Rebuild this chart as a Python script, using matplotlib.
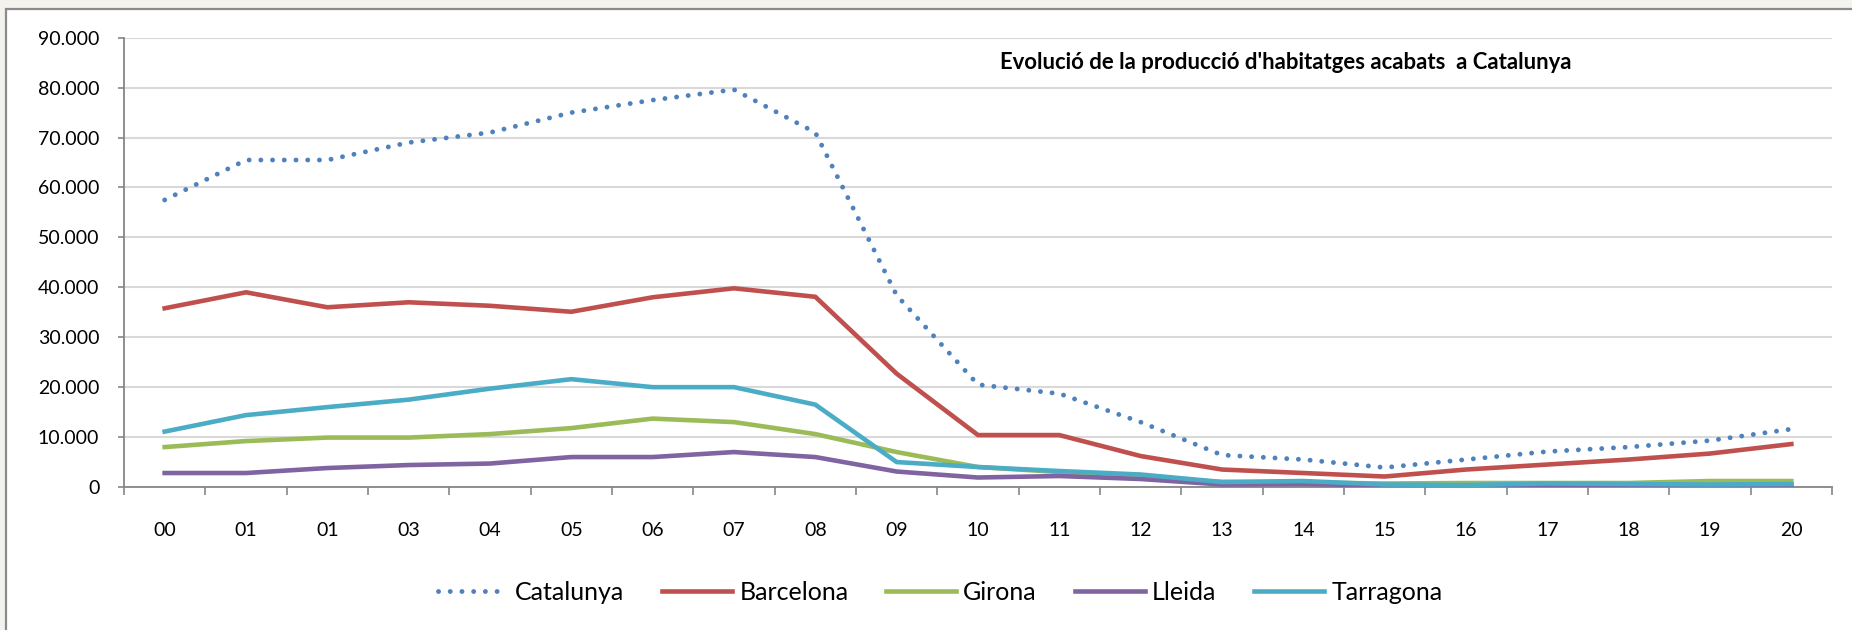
import matplotlib.pyplot as plt
from matplotlib.patches import Rectangle
from matplotlib.ticker import FuncFormatter, FixedLocator

plt.rcParams["font.family"] = ["Lato", "DejaVu Sans"]

# anys (etiquetes tal com surten a l'original)
anys = ["00", "01", "01", "03", "04", "05", "06", "07", "08", "09", "10",
        "11", "12", "13", "14", "15", "16", "17", "18", "19", "20"]

catalunya = [57500, 65500, 65500, 69000, 71000, 75000, 77500, 79600, 71000, 38400, 20500,
             18700, 13000, 6400, 5500, 3900, 5500, 7100, 8000, 9300, 11600]
barcelona = [35800, 39000, 36000, 37000, 36300, 35100, 38000, 39800, 38100, 22700, 10400,
             10400, 6200, 3500, 2800, 2100, 3500, 4500, 5500, 6700, 8600]
girona = [8000, 9200, 9900, 9900, 10600, 11800, 13700, 13000, 10600, 7000, 4000,
          3000, 2000, 1000, 900, 700, 800, 800, 800, 1200, 1200]
lleida = [2800, 2800, 3800, 4400, 4700, 6000, 6000, 7000, 6000, 3100, 1900,
          2200, 1600, 500, 600, 300, 300, 300, 300, 300, 400]
tarragona = [11100, 14400, 16000, 17500, 19700, 21600, 20000, 20000, 16500, 5000, 4000,
             3200, 2500, 1000, 1200, 500, 400, 700, 600, 500, 600]

fig = plt.figure(figsize=(18.52, 6.30), dpi=100)
fig.patch.set_facecolor("#f4f2ec")
# panell blanc amb vora grisa (com el gràfic d'Excel)
fig.patches.append(Rectangle((6 / 1852, -0.1), 1.2, 1 - 9 / 630 + 0.1,
                             transform=fig.transFigure, facecolor="white",
                             edgecolor="#8a8a8a", linewidth=1.6, zorder=-5))

ax = fig.add_axes([124 / 1852, 1 - 487 / 630, (1832 - 124) / 1852, (487 - 37.7) / 630])
ax.set_zorder(2)
ax.set_facecolor("none")

x = list(range(len(anys)))
ax.plot(x, catalunya, color="#4f81bd", lw=3.5, linestyle=(0, (0.01, 2.4)),
        dash_capstyle="round", label="Catalunya", zorder=3)
ax.plot(x, barcelona, color="#c0504d", lw=3.3, label="Barcelona", zorder=3)
ax.plot(x, girona, color="#9bbb59", lw=3.3, label="Girona", zorder=3)
ax.plot(x, lleida, color="#8064a2", lw=3.3, label="Lleida", zorder=3)
ax.plot(x, tarragona, color="#4bacc6", lw=3.3, label="Tarragona", zorder=3)

ax.set_xlim(-0.5, len(anys) - 0.5)
ax.set_ylim(0, 90000)
ax.set_yticks(range(0, 90001, 10000))
ax.yaxis.set_major_formatter(FuncFormatter(lambda v, p: "0" if v == 0 else f"{int(v):,}".replace(",", ".")))
ax.set_xticks(x)
ax.set_xticklabels(anys)
ax.xaxis.set_minor_locator(FixedLocator([i - 0.5 for i in range(len(anys) + 1)]))

ax.grid(axis="y", color="#d9d9d9", lw=1.5, zorder=1)
ax.set_axisbelow(True)
for s in ["top", "right"]:
    ax.spines[s].set_visible(False)
for s in ["left", "bottom"]:
    ax.spines[s].set_color("#868686")
    ax.spines[s].set_linewidth(1.3)

ax.tick_params(axis="y", length=4.3, width=1.2, color="#868686", pad=13.5, labelsize=14)
ax.tick_params(axis="x", which="major", length=0, pad=25, labelsize=14)
ax.tick_params(axis="x", which="minor", length=6, width=1.2, color="#868686")

ax.text(0.680, 0.9446, "Evolució de la producció d'habitatges acabats  a Catalunya",
        transform=ax.transAxes, fontsize=15.9, fontweight="bold", ha="center", va="center")

fig.legend(loc="center", bbox_to_anchor=(940 / 1852, 1 - 592 / 630), ncol=5, frameon=False,
           fontsize=18, handlelength=2.8, handletextpad=0.3, columnspacing=1.5)

plt.savefig("out.png", dpi=100, facecolor=fig.get_facecolor())
